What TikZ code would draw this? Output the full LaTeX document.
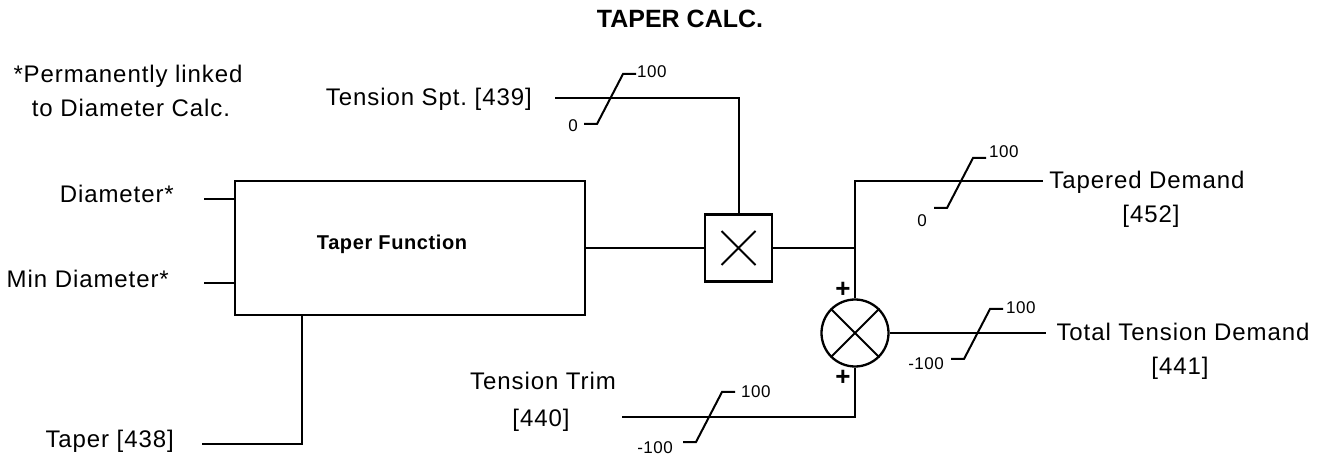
\documentclass[tikz,border=0pt]{standalone}
\usepackage{fontspec}
\setmainfont{Liberation Sans}
\frenchspacing
\begin{document}
\begin{tikzpicture}[x=1pt,y=-1pt,
  wire/.style={line width=2pt},
  thinwire/.style={line width=1.1pt},
  lbl/.style={inner sep=0pt,anchor=base,font=\fontsize{24}{28}\selectfont\addfontfeatures{LetterSpace=3.8}},
  small/.style={inner sep=0pt,anchor=base,font=\fontsize{17}{20}\selectfont\addfontfeatures{LetterSpace=3}},
  blockbox/.style={draw,line width=2.2pt,minimum width=350pt,minimum height=134pt,inner sep=0pt},
  mulbox/.style={draw,line width=2.3pt,minimum width=67pt,minimum height=67pt,inner sep=0pt},
  sumcirc/.style={draw,circle,line width=2.3pt,minimum size=67pt,inner sep=0pt},
  lim/.pic={\draw[line width=2pt] (-26,25) -- (-13,25) -- (13,-25) -- (26,-25);}
]
\useasboundingbox (0,0) rectangle (1318,454);

% title
\node[lbl,font=\fontsize{25}{30}\selectfont\bfseries] (title) at (680,28) {TAPER CALC.};

% note
\node[lbl] (note1) at (128,83) {*Permanently linked};
\node[lbl] (note2) at (131,117) {to Diameter Calc.};

% blocks
\node[blockbox] (tf) at (410,248) {};
\node[inner sep=0pt,anchor=base,font=\fontsize{20}{24}\selectfont\bfseries\addfontfeatures{LetterSpace=3}] (tflbl) at (392,250) {Taper Function};
\node[mulbox] (mul) at (738.5,248) {};
\draw[line width=2pt] ([shift={(-17,-17)}]mul.center) -- ([shift={(17,17)}]mul.center)
                      ([shift={(-17,17)}]mul.center) -- ([shift={(17,-17)}]mul.center);
\node[sumcirc] (sum) at (855,333) {};
\draw[line width=2pt] (sum.north west) -- (sum.south east) (sum.north east) -- (sum.south west);
\node[inner sep=0pt,font=\fontsize{26}{30}\selectfont\bfseries] (plus1) at (843,290) {+};
\node[inner sep=0pt,font=\fontsize{26}{30}\selectfont\bfseries] (plus2) at (843,378) {+};

% inputs left
\node[lbl,anchor=base east] (dialbl) at (174,203) {Diameter*};
\coordinate (diaIn) at (204,199);
\draw[wire] (diaIn) -- (diaIn -| tf.west);
\node[lbl,anchor=base east] (mindlbl) at (169,288) {Min Diameter*};
\coordinate (mindIn) at (204,283);
\draw[wire] (mindIn) -- (mindIn -| tf.west);
\node[lbl,anchor=base east] (taplbl) at (174,447) {Taper [438]};
\coordinate (tapIn) at (202,444);
\coordinate (tapUp) at (302,315);
\draw[thinwire] (tapIn) -| (tapUp);

% block to multiplier
\draw[wire] (tf.east) -- (mul.west);

% tension setpoint
\node[lbl,anchor=base east] (sptlbl) at (532,106) {Tension Spt. [439]};
\coordinate (sptIn) at (555,98);
\draw[wire] (sptIn) -| (mul.north);
\pic at (610,99) {lim};
\node[small,anchor=base west] (spt100) at (637,78) {100};
\node[small,anchor=base east] (spt0) at (578,132) {0};

% multiplier to summing junction and tapered demand
\coordinate (tapOut) at (1043,181);
\draw[wire] (mul.east) -- (mul.east -| sum.north);
\draw[wire] (sum.north) |- (tapOut);
\pic at (960,183) {lim};
\node[small,anchor=base west] (tap100) at (989,158) {100};
\node[small,anchor=base east] (tap0) at (927,227) {0};
\node[lbl] (taplbl1) at (1147,189) {Tapered Demand};
\node[lbl] (taplbl2) at (1151,223) {[452]};

% total tension demand
\coordinate (totOut) at (1046,333);
\draw[wire] (sum.east) -- (totOut);
\pic at (977,334) {lim};
\node[small,anchor=base west] (tot100) at (1006,314) {100};
\node[small,anchor=base east] (totm100) at (944,370) {-100};
\node[lbl] (totlbl1) at (1183,341) {Total Tension Demand};
\node[lbl] (totlbl2) at (1180,375) {[441]};

% tension trim
\node[lbl] (trimlbl1) at (543,390) {Tension Trim};
\node[lbl] (trimlbl2) at (541,427) {[440]};
\coordinate (trimIn) at (622,417);
\draw[wire] (trimIn) -| (sum.south);
\pic at (709,417) {lim};
\node[small,anchor=base west] (trim100) at (741,398) {100};
\node[small,anchor=base east] (trimm100) at (673,453) {-100};
\end{tikzpicture}
\end{document}
